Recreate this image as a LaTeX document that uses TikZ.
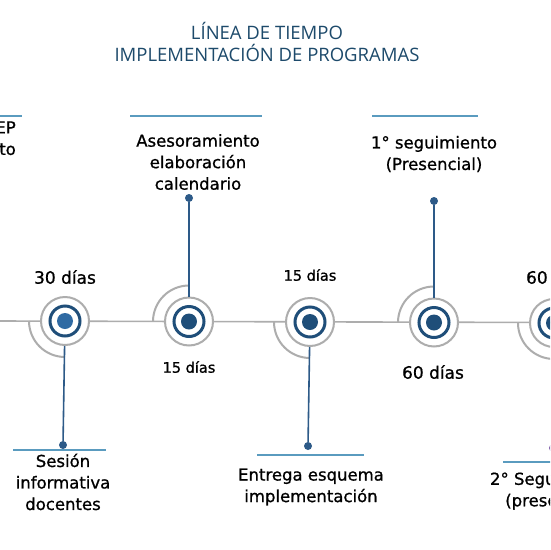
\documentclass[tikz,border=0pt]{standalone}
\usepackage{fontspec}
\setmainfont{DejaVu Sans}
\newfontfamily\lblfont{DejaVu Sans}[FakeBold=0.9]
\newfontfamily\titlefont{Open Sans}
\definecolor{navy}{HTML}{1F4E79}
\definecolor{dotlight}{HTML}{2F6AA3}
\definecolor{stemblue}{HTML}{2D5A88}
\definecolor{tealline}{HTML}{5A9BBF}
\definecolor{ringgray}{HTML}{ADADAD}
\definecolor{titleblue}{HTML}{1D4A6B}
\definecolor{purpledot}{HTML}{7E5CA8}
\tikzset{
  outerring/.style={circle, draw=ringgray, line width=2pt, fill=white, minimum size=48pt, inner sep=0pt},
  axisline/.style={draw=ringgray, line width=1.6pt},
  arcline/.style={draw=ringgray, line width=2pt},
  bluering/.style={draw=navy, line width=3pt},
  stemline/.style={draw=stemblue, line width=1.6pt},
  stemdot/.style={circle, fill=stemblue, minimum size=8pt, inner sep=0pt},
  underline/.style={draw=tealline, line width=1.2pt},
  lbl/.style={font=\lblfont\fontsize{16.5}{21.5}\selectfont, text=black, align=center, inner sep=0pt},
  big/.style={font=\lblfont\fontsize{17}{21}\selectfont, text=black, inner sep=0pt},
  small/.style={font=\lblfont\fontsize{14.5}{18}\selectfont, text=black, inner sep=0pt},
  ttl/.style={font=\titlefont\fontsize{18.5}{22}\selectfont, text=titleblue, align=center, inner sep=0pt}
}
\newcommand{\milestone}[4]{% name, x, y, dot colour
  \node[outerring] (#1) at (#2,#3) {};
  \draw[bluering] (#1.center) circle[radius=15];
  \fill[#4] (#1.center) circle[radius=8];
}
\begin{document}
\begin{tikzpicture}[x=1pt,y=-1pt]
\useasboundingbox (0,0) rectangle (550,550);
\clip (0,0) rectangle (550,550);
\fill[white] (0,0) rectangle (550,550);

% title
\node[ttl] (title) at (267,42) {LÍNEA DE TIEMPO\\IMPLEMENTACIÓN DE PROGRAMAS};

% axis
\coordinate (axL) at (0,321);
\coordinate (axR) at (550,322.5);
\draw[axisline] (axL) -- (axR);

% quarter arcs (drawn before the circles)
\draw[arcline] (29,321) arc[start angle=180, end angle=90, radius=36];
\draw[arcline] (153,321.5) arc[start angle=180, end angle=270, radius=36];
\draw[arcline] (274,322) arc[start angle=180, end angle=90, radius=36];
\draw[arcline] (398,322.5) arc[start angle=180, end angle=270, radius=36];
\draw[arcline] (518,323) arc[start angle=180, end angle=90, radius=36];

% milestones
\milestone{c1}{65}{321}{dotlight}
\milestone{c2}{189}{321.5}{navy}
\milestone{c3}{310}{322}{navy}
\milestone{c4}{434}{322.5}{navy}
\milestone{c5}{554}{323}{navy}

% stems
\node[stemdot] (d1) at (63,445) {};
\node[stemdot] (d2) at (189,198) {};
\node[stemdot] (d3) at (308,446) {};
\node[stemdot] (d4) at (434,201) {};
\node[circle, fill=purpledot, minimum size=8pt, inner sep=0pt] (d5) at (553,448) {};
\draw[stemline] (c1) -- (d1);
\draw[stemline] (c2) -- (d2);
\draw[stemline] (c3) -- (d3);
\draw[stemline] (c4) -- (d4);

% underlines
\coordinate (u0a) at (0,116); \coordinate (u0b) at (22,116);
\coordinate (u1a) at (13,450); \coordinate (u1b) at (106,450);
\coordinate (u2a) at (130,116); \coordinate (u2b) at (262,116);
\coordinate (u3a) at (257,455); \coordinate (u3b) at (364,455);
\coordinate (u4a) at (372,116); \coordinate (u4b) at (478,116);
\coordinate (u5a) at (503,462); \coordinate (u5b) at (560,462);
\draw[underline] (u0a) -- (u0b);
\draw[underline] (u1a) -- (u1b);
\draw[underline] (u2a) -- (u2b);
\draw[underline] (u3a) -- (u3b);
\draw[underline] (u4a) -- (u4b);
\draw[underline] (u5a) -- (u5b);

% labels
\node[lbl, align=right, anchor=north east] (t0) at (16,120) {Presentación PEP\\del proyecto};
\node[lbl] (t1) at (63,482) {Sesión\\informativa\\docentes};
\node[lbl] (t2) at (198,162) {Asesoramiento\\elaboración\\calendario};
\node[lbl] (t3) at (311,487) {Entrega esquema\\implementación};
\node[lbl] (t4) at (434,154) {1° seguimiento\\(Presencial)};
\node[lbl] (t5) at (554,491) {2° Seguimiento\\(presencial)};

% durations
\node[big] (n1) at (65,277) {30 días};
\node[small] (n2) at (189,367) {15 días};
\node[small] (n3) at (310,275) {15 días};
\node[big] (n4) at (433,372) {60 días};
\node[big] (n5) at (557,277) {60 días};
\end{tikzpicture}
\end{document}
